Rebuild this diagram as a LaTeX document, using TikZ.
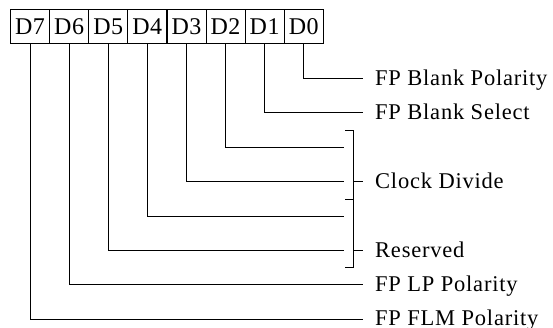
\documentclass[tikz,border=0pt]{standalone}
\usepackage{fontspec}
\setmainfont{Liberation Serif}
\begin{document}
\begin{tikzpicture}[x=1pt,y=1pt,
  bitbox/.style={draw,line width=0.8pt,minimum width=39.04pt,minimum height=34pt,inner sep=0pt,font=\fontsize{24}{24}\selectfont\addfontfeatures{LetterSpace=2}},
  lbl/.style={anchor=base west,inner sep=0pt,font=\fontsize{22.5}{22.5}\selectfont\addfontfeatures{LetterSpace=3.5}},
  wire/.style={line width=0.8pt}]
\useasboundingbox (0,0) rectangle (553,328);
% bit boxes
\foreach \k in {7,...,0}{
  \node[bitbox] (b\k) at ({10.5+39.1*(7-\k)+19.55},301.7) {D\k};
}
% wire end points
\coordinate (e0) at (363,249.7);
\coordinate (e1) at (363,215.3);
\coordinate (e2) at (344,180.8);
\coordinate (e3) at (344,146.4);
\coordinate (e4) at (344,112);
\coordinate (e5) at (344,77.5);
\coordinate (e6) at (363,43.1);
\coordinate (e7) at (363,8.7);
\foreach \k in {0,...,7}{
  \draw[wire] (b\k.south) |- (e\k);
}
% bracket
\coordinate (bt) at (353.5,198);
\coordinate (bm) at (353.5,129);
\coordinate (bb) at (353.5,61);
\coordinate (btl) at (345,198);
\coordinate (bml) at (345,129);
\coordinate (bbl) at (345,61);
\coordinate (cdl) at (353.5,146.4);
\coordinate (cdr) at (363,146.4);
\coordinate (rsl) at (353.5,77.5);
\coordinate (rsr) at (363,77.5);
\draw[wire] (btl) -- (bt) -- (bb) -- (bbl);
\draw[wire] (bml) -- (bm);
\draw[wire] (cdl) -- (cdr);
\draw[wire] (rsl) -- (rsr);
% labels
\node[lbl] (t0) at (375,242.7) {FP Blank Polarity};
\node[lbl] (t1) at (375,208.3) {FP Blank Select};
\node[lbl] (t3) at (375,139.4) {Clock Divide};
\node[lbl] (t5) at (375,70.5) {Reserved};
\node[lbl] (t6) at (375,36.1) {FP LP Polarity};
\node[lbl] (t7) at (375,2.2) {FP FLM Polarity};
\end{tikzpicture}
\end{document}
